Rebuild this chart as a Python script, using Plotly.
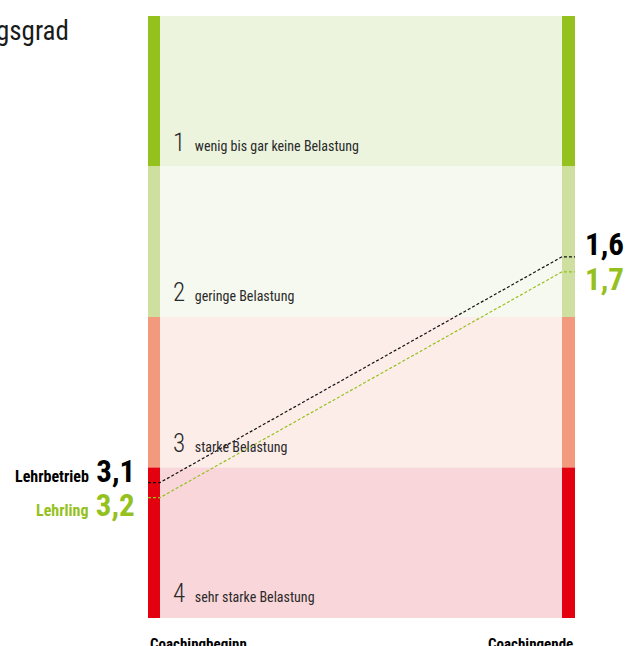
import plotly.graph_objects as go

# ---- data ----
stages = ["Coachingbeginn", "Coachingende"]
lehrbetrieb = [3.1, 1.6]
lehrling = [3.2, 1.7]
levels = [1, 2, 3, 4]
level_labels = ["wenig bis gar keine Belastung", "geringe Belastung",
                "starke Belastung", "sehr starke Belastung"]
title_text = "Belastungsgrad"

# ---- style ----
W, H = 628, 646
bar_dark = ["#95C11F", "#CEDF9F", "#F39A7E", "#E3000F"]
band_fill = ["#ECF4DE", "#F6F9EF", "#FCEDE9", "#F9D6D9"]
green = "#95C11F"
NARROW = "Roboto Condensed, Liberation Sans Narrow, Arial Narrow, sans-serif"

# pixel mapping: x=0 -> left bar inner edge(160), x=1 -> right bar inner edge(562)
px0, px1 = 160, 562
ux = px1 - px0
xr = [-px0 / ux, (W - px0) / ux]
bw_l = 12 / ux
bw_r = 13 / ux
# y: value 0 at px 16, value 4 at px 618
py0, py4 = 16, 618
uy = (py4 - py0) / 4
yr = [(H - py0) / uy, -py0 / uy]

fig = go.Figure()

shapes = []
for i, lv in enumerate(levels):
    y0, y1 = lv - 1, lv
    shapes.append(dict(type="rect", xref="x", yref="y", x0=0, x1=1, y0=y0, y1=y1,
                       fillcolor=band_fill[i], line_width=0, layer="below"))
    shapes.append(dict(type="rect", xref="x", yref="y", x0=-bw_l, x1=0, y0=y0, y1=y1,
                       fillcolor=bar_dark[i], line_width=0, layer="below"))
    shapes.append(dict(type="rect", xref="x", yref="y", x0=1, x1=1 + bw_r, y0=y0, y1=y1,
                       fillcolor=bar_dark[i], line_width=0, layer="below"))

for vals, col in [(lehrbetrieb, "#111111"), (lehrling, green)]:
    fig.add_trace(go.Scatter(
        x=[-bw_l, 0, 1, 1 + bw_r], y=[vals[0], vals[0], vals[1], vals[1]],
        mode="lines", line=dict(color=col, width=1.2, dash="3px,2px"),
        hoverinfo="skip", showlegend=False))

def fmt(v):
    return f"{v:.1f}".replace(".", ",")

ann = []
# band labels
for i, lv in enumerate(levels):
    ann.append(dict(
        xref="x", yref="y", x=0, y=lv, xanchor="left", yanchor="bottom",
        xshift=11, yshift=8, showarrow=False,
        text=f"<span style='font-size:25px;font-weight:300'>{lv}</span>   {level_labels[i]}",
        font=dict(family=NARROW, size=14, color="#2a2a2a")))

# left labels
ann.append(dict(xref="x", yref="y", x=-bw_l, y=lehrbetrieb[0], xanchor="right",
                yanchor="middle", xshift=-11, yshift=11, showarrow=False,
                text=f"<b>Lehrbetrieb</b>  <b><span style='font-size:31px'>{fmt(lehrbetrieb[0])}</span></b>",
                font=dict(family=NARROW, size=16, color="#000000")))
ann.append(dict(xref="x", yref="y", x=-bw_l, y=lehrling[0], xanchor="right",
                yanchor="middle", xshift=-11, yshift=-8, showarrow=False,
                text=f"<b>Lehrling</b>  <b><span style='font-size:31px'>{fmt(lehrling[0])}</span></b>",
                font=dict(family=NARROW, size=16, color=green)))
# right labels
ann.append(dict(xref="x", yref="y", x=1 + bw_r, y=lehrbetrieb[1], xanchor="left",
                yanchor="middle", xshift=8, yshift=12, showarrow=False,
                text=f"<b>{fmt(lehrbetrieb[1])}</b>",
                font=dict(family=NARROW, size=31, color="#000000")))
ann.append(dict(xref="x", yref="y", x=1 + bw_r, y=lehrling[1], xanchor="left",
                yanchor="middle", xshift=8, yshift=-8, showarrow=False,
                text=f"<b>{fmt(lehrling[1])}</b>",
                font=dict(family=NARROW, size=31, color=green)))
# stage labels
ann.append(dict(xref="x", yref="paper", x=-bw_l, y=1 - 633 / H, xanchor="left",
                yanchor="top", showarrow=False, text=f"<b>{stages[0]}</b>",
                font=dict(family=NARROW, size=15, color="#000000")))
ann.append(dict(xref="x", yref="paper", x=1 + bw_r, y=1 - 633 / H, xanchor="right",
                yanchor="top", showarrow=False, text=f"<b>{stages[1]}</b>",
                font=dict(family=NARROW, size=15, color="#000000")))
# title (cut off at left edge)
ann.append(dict(xref="paper", yref="paper", x=71 / W, y=1 - 31 / H, xanchor="right",
                yanchor="middle", showarrow=False, text=title_text,
                font=dict(family=NARROW, size=27, color="#1a1a1a")))

fig.update_layout(
    width=W, height=H, margin=dict(l=0, r=0, t=0, b=0),
    paper_bgcolor="white", plot_bgcolor="white",
    xaxis=dict(range=xr, visible=False, fixedrange=True),
    yaxis=dict(range=yr, visible=False, fixedrange=True),
    shapes=shapes, annotations=ann, showlegend=False)

fig.write_html("out.html", config={"displayModeBar": False},
               post_script="document.body.style.margin='0';document.body.style.padding='0';document.body.style.overflow='hidden';")
